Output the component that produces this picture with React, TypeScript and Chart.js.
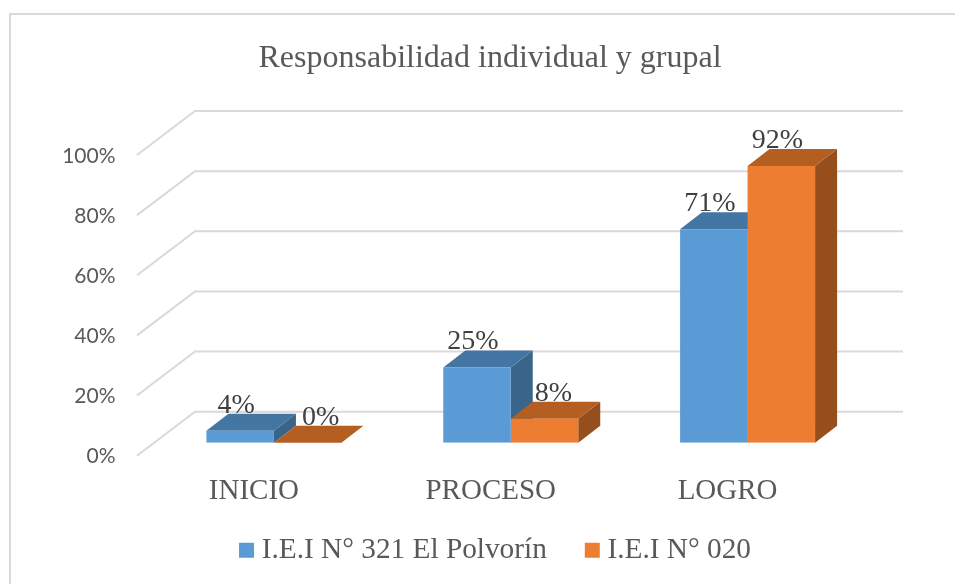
import React, { useEffect, useRef } from "react";
import { Chart, registerables } from "chart.js";

Chart.register(...registerables);

const categories = ["INICIO", "PROCESO", "LOGRO"];
const seriesA = [4, 25, 71];
const seriesB = [0, 8, 92];
const seriesNames = ["I.E.I N° 321 El Polvorín", "I.E.I N° 020"];
const yTicks = [0, 20, 40, 60, 80, 100];

const SERIF = "'Liberation Serif', serif";
const FRONT = ["#5B9BD5", "#ED7D31"];
const TOP = ["#4476A3", "#B55E22"];
const SIDE = ["#3A6589", "#964F1C"];

const depth = { dx: 22, dy: -17 };
const wall = { left: 195, right: 903, front: 137, frontDy: 44, shift: 31 };

const poly = (ctx: CanvasRenderingContext2D, pts: number[][], fill: string) => {
  ctx.beginPath();
  pts.forEach(([x, y], i) => (i ? ctx.lineTo(x, y) : ctx.moveTo(x, y)));
  ctx.closePath();
  ctx.fillStyle = fill;
  ctx.fill();
};

const plugin3d = {
  id: "threeD",
  afterLayout(chart: any) {
    // the title and legend are centred on the wall, not on the plot box
    chart.titleBlock.left += 57;
    chart.titleBlock.right += 57;
    chart.legend.left += 65.5;
    chart.legend.right += 65.5;
    chart.legend.top -= 9;
    chart.legend.bottom -= 9;
  },
  beforeDraw(chart: any) {
    const { ctx } = chart;
    const y = chart.scales.y;
    ctx.save();
    ctx.fillStyle = "#fff";
    ctx.fillRect(0, 0, chart.width, chart.height);
    ctx.strokeStyle = "#D9D9D9";
    ctx.lineWidth = 2;
    ctx.beginPath();
    ctx.moveTo(10, 584);
    ctx.lineTo(10, 14);
    ctx.lineTo(955, 14);
    ctx.stroke();
    yTicks.forEach((t) => {
      const py = y.getPixelForValue(t) - wall.shift;
      ctx.beginPath();
      ctx.moveTo(wall.front, py + wall.frontDy);
      ctx.lineTo(wall.left, py);
      ctx.lineTo(wall.right, py);
      ctx.stroke();
    });
    ctx.restore();
  },
  beforeDatasetsDraw(chart: any) {
    const { ctx } = chart;
    ctx.save();
    [0, 1].forEach((d) => {
      chart.getDatasetMeta(d).data.forEach((b: any) => {
        const l = b.x - b.width / 2;
        const r = b.x + b.width / 2;
        const t = b.y;
        const bot = b.base;
        poly(ctx, [[r, t], [r + depth.dx, t + depth.dy], [r + depth.dx, bot + depth.dy], [r, bot]], SIDE[d]);
        poly(ctx, [[l, t], [l + depth.dx, t + depth.dy], [r + depth.dx, t + depth.dy], [r, t]], TOP[d]);
      });
    });
    ctx.restore();
  },
  afterDatasetsDraw(chart: any) {
    const { ctx } = chart;
    ctx.save();
    ctx.font = `28px ${SERIF}`;
    ctx.fillStyle = "#404040";
    ctx.textAlign = "center";
    ctx.textBaseline = "middle";
    [0, 1].forEach((d) => {
      chart.getDatasetMeta(d).data.forEach((b: any, i: number) => {
        const v = chart.data.datasets[d].data[i];
        const nudge = d === 0 ? -4 : v === 0 ? 13 : v < 10 ? 9 : -4;
        ctx.fillText(`${v}%`, b.x + nudge, b.y - 25.5);
      });
    });
    ctx.restore();
  },
};

export default function App() {
  const ref = useRef<HTMLCanvasElement>(null);
  useEffect(() => {
    document.body.style.margin = "0";
    const chart = new Chart(ref.current!, {
      type: "bar",
      plugins: [plugin3d],
      data: {
        labels: categories,
        datasets: [
          { label: seriesNames[0], data: seriesA, backgroundColor: FRONT[0] },
          { label: seriesNames[1], data: seriesB, backgroundColor: FRONT[1] },
        ],
      },
      options: {
        animation: false,
        responsive: false,
        layout: { padding: { top: 0, right: 89, bottom: 0, left: 0 } },
        datasets: { bar: { categoryPercentage: 0.57, barPercentage: 1 } },
        scales: {
          x: {
            grid: { display: false },
            border: { display: false },
            afterFit: (s: any) => { s.height = 57; },
            ticks: {
              color: "#595959",
              font: { family: SERIF, size: 29 },
              labelOffset: -20,
              padding: 23,
              maxRotation: 0,
            },
          },
          y: {
            min: 0,
            max: 100,
            grid: { display: false },
            border: { display: false },
            afterFit: (s: any) => { s.width = 155.5; },
            afterBuildTicks: (s: any) => { s.ticks = yTicks.map((value) => ({ value })); },
            ticks: {
              color: "#595959",
              font: { family: "Lato", size: 21 },
              labelOffset: 14,
              padding: 32,
              callback: (v: any) => `${v}%`,
            },
          },
        },
        plugins: {
          title: {
            display: true,
            text: "Responsabilidad individual y grupal",
            color: "#595959",
            font: { family: SERIF, size: 32, weight: "normal" },
            padding: { top: 39, bottom: 64.6 },
          },
          legend: {
            position: "bottom",
            labels: {
              color: "#595959",
              font: { family: SERIF, size: 29.3 },
              usePointStyle: true,
              pointStyle: "rect",
              boxWidth: 1,
              boxHeight: 15,
              padding: 45,
            },
          },
          tooltip: { enabled: false },
        },
      },
    } as any);
    return () => chart.destroy();
  }, []);
  return <canvas ref={ref} width={955} height={584} style={{ display: "block" }} />;
}
